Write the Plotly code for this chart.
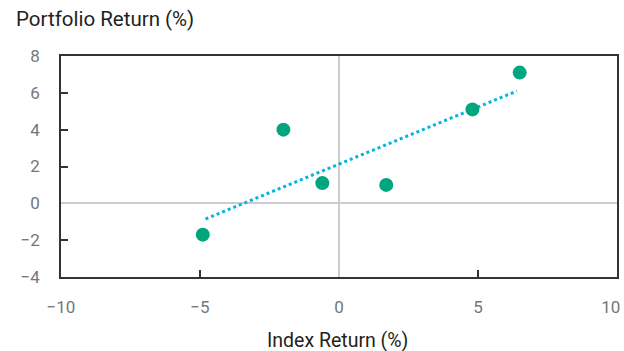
import plotly.graph_objects as go

# --- Data ---
index_return = [-4.9, -2.0, -0.6, 1.7, 4.8, 6.5]
portfolio_return = [-1.7, 4.0, 1.1, 1.0, 5.1, 7.1]

trend_x = [-4.8, 6.4]
trend_y = [-0.85, 6.1]

x_ticks = [-10, -5, 0, 5, 10]
# last label padded so it stays inside the window, as in the reference
x_tick_text = ["\u221210", "\u22125", "0", "5", "10\u00a0\u00a0\u00a0"]
y_ticks = [-4, -2, 0, 2, 4, 6, 8]

# --- Styles ---
FONT = "Roboto"
GREEN = "#00a67e"
CYAN = "#00b5e2"
AXIS = "#333333"
ZERO = "#cccccc"
TICK_TEXT = "#75767a"

fig = go.Figure()

fig.add_trace(
    go.Scatter(
        x=trend_x,
        y=trend_y,
        mode="lines",
        line=dict(color=CYAN, width=3, dash="dot"),
        hoverinfo="skip",
    )
)

fig.add_trace(
    go.Scatter(
        x=index_return,
        y=portfolio_return,
        mode="markers",
        marker=dict(color=GREEN, size=14, line=dict(width=0)),
    )
)

# invisible trace to activate the tick-only overlay axes
fig.add_trace(
    go.Scatter(x=[0], y=[0], xaxis="x2", yaxis="y2", mode="markers",
               marker=dict(opacity=0), hoverinfo="skip")
)

axis_common = dict(
    automargin=False,
    showgrid=False,
    showline=True,
    mirror=True,
    linecolor=AXIS,
    linewidth=1.5,
    zeroline=True,
    zerolinecolor=ZERO,
    zerolinewidth=1.5,
    ticks="",
    ticklabeloverflow="allow",
    tickfont=dict(family=FONT, size=17, color=TICK_TEXT),
)

overlay_common = dict(
    automargin=False,
    ticks="inside",
    ticklen=7,
    tickwidth=1.5,
    tickcolor=AXIS,
    showticklabels=False,
    showgrid=False,
    zeroline=False,
    showline=False,
)

fig.update_layout(
    width=624,
    height=351,
    margin=dict(l=61, r=7, t=56, b=74, autoexpand=False),
    paper_bgcolor="white",
    plot_bgcolor="white",
    showlegend=False,
    xaxis=dict(axis_common, range=[-10, 10], tickvals=x_ticks,
               ticktext=x_tick_text, ticklabelstandoff=14),
    yaxis=dict(axis_common, range=[-4, 8], tickvals=y_ticks, ticklabelstandoff=16),
    xaxis2=dict(overlay_common, overlaying="x", range=[-10, 10], tickvals=[-5, 5]),
    yaxis2=dict(overlay_common, overlaying="y", range=[-4, 8], tickvals=[-2, 2, 4, 6]),
    annotations=[
        dict(
            text="Portfolio Return (%)",
            xref="paper", yref="paper",
            x=-47 / 556, y=1 + 37 / 221,
            xanchor="left", yanchor="middle",
            showarrow=False,
            font=dict(family=FONT, size=20.5, color="#231f20"),
        ),
        dict(
            text="Index Return (%)",
            xref="paper", yref="paper",
            x=(337 - 61) / 556, y=-(340 - 277) / 221,
            xanchor="center", yanchor="middle",
            showarrow=False,
            font=dict(family=FONT, size=19.5, color="#231f20"),
        ),
    ],
)

# drop the default page margin so the figure sits at the window's top-left
fig.write_html(
    "out.html",
    config={"displayModeBar": False},
    post_script="document.body.style.margin='0';",
)
